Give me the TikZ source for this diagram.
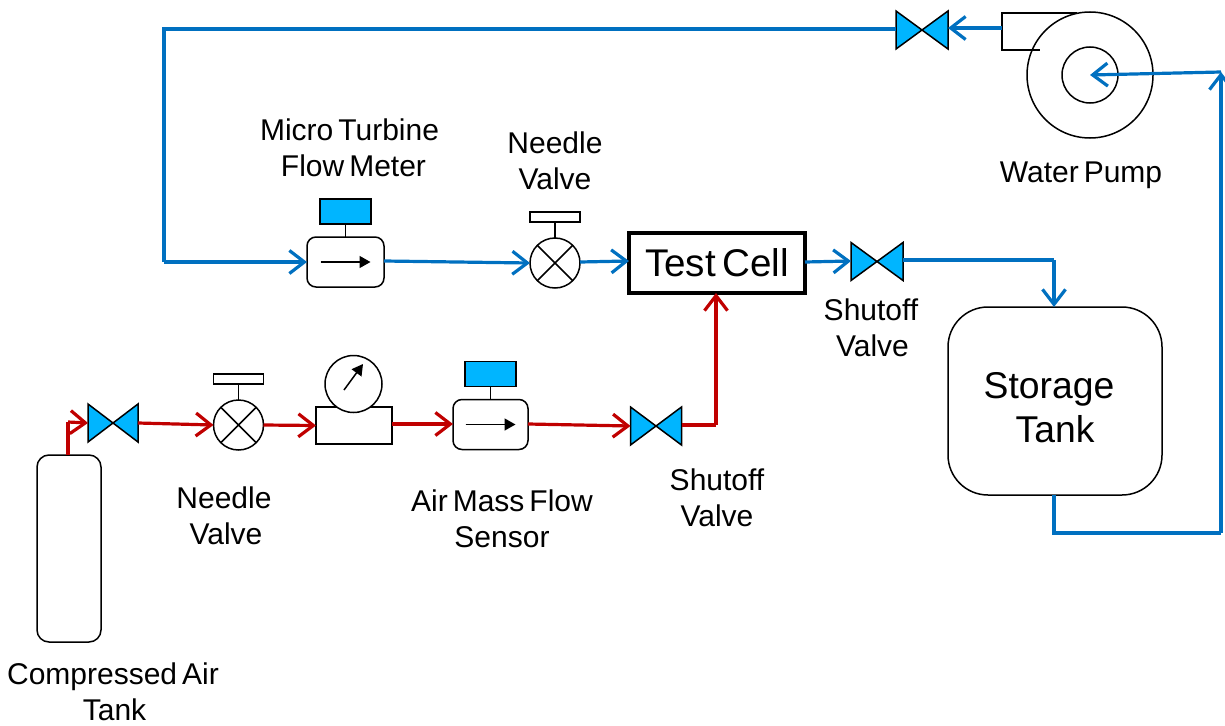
\documentclass[tikz,border=0pt]{standalone}
\usepackage{fontspec}
\setmainfont[WordSpace=0.6]{Liberation Sans}
\usetikzlibrary{arrows.meta}
\definecolor{pipeblue}{HTML}{0070C0}
\definecolor{pipered}{HTML}{C00000}
\definecolor{valvefill}{HTML}{00B5FF}
\tikzset{
  blueline/.style={draw=pipeblue,line width=3.2pt,line join=miter},
  redline/.style={draw=pipered,line width=3.2pt,line join=miter},
  flowb/.style={blueline,-{Straight Barb[length=15pt,width=23pt,line width=3.2pt]}},
  flowr/.style={redline,-{Straight Barb[length=15pt,width=23pt,line width=3.2pt]}},
  outline/.style={draw=black,line width=1.5pt},
  bowtie/.style={minimum width=#1,minimum height=38pt,inner sep=0pt,outer sep=0pt},
  box/.style={outline,rounded corners=#1,inner sep=0pt,outer sep=0pt,fill=white},
  plainbox/.style={outline,inner sep=0pt,outer sep=0pt,fill=white},
  display/.style={outline,fill=valvefill,inner sep=0pt,outer sep=0pt,minimum width=51pt,minimum height=25pt},
  handle/.style={outline,fill=white,inner sep=0pt,outer sep=0pt,minimum width=50pt,minimum height=10pt},
  disc/.style={circle,outline,fill=white,inner sep=0pt,outer sep=0pt,minimum size=#1},
  lbl/.style={align=center,inner sep=0pt,font=\fontsize{30}{36}\selectfont},
  biglbl/.style={align=center,inner sep=0pt,font=\fontsize{37.3}{44}\selectfont},
  tip/.style={-{Triangle[length=11pt,width=12pt]},line width=1.5pt,draw=black,fill=black}
}
\newcommand{\valveat}[3]{%
  \node[bowtie=#3] (#1) at (#2) {};
  \draw[outline,fill=valvefill,line join=miter] (#1.north west) -- (#1.south east) -- (#1.north east) -- (#1.south west) -- cycle;
}
\newcommand{\needleat}[2]{%
  \node[disc=50pt] (#1) at (#2) {};
  \draw[outline] (#1.north west) -- (#1.south east) (#1.north east) -- (#1.south west);
  \node[handle,above=16pt] (#1h) at (#1.north) {};
  \draw[outline] (#1.north) -- (#1h.south);
}
\newcommand{\meterat}[3]{%
  \node[box=9pt,minimum width=#3,minimum height=50pt] (#1) at (#2) {};
  \node[display,above=13pt] (#1d) at (#1.north) {};
  \draw[outline] (#1.north) -- (#1d.south);
  \coordinate (#1a) at ([xshift=-25pt]#1.center);
  \coordinate (#1b) at ([xshift=25pt]#1.center);
  \draw[tip] (#1a) -- (#1b);
}
\begin{document}
\begin{tikzpicture}[x=1pt,y=-1pt]
\useasboundingbox (0,0) rectangle (1225,725);

% upper components
\valveat{vtop}{922,30}{52pt}
\node[disc=126pt] (pump) at (1090,75) {};
\node[disc=56pt] (pumpeye) at (1090,75) {};
\coordinate (hA) at (1077,13);
\coordinate (hB) at (1002,13);
\coordinate (hC) at (1002,50);
\coordinate (hD) at (1040,50);
\draw[outline,line join=miter] (hA) -- (hB) -- (hC) -- (hD);
\meterat{mt}{345.5,262}{77pt}
\needleat{nv}{555,263}
\node[draw=black,line width=4.5pt,fill=white,minimum width=176pt,minimum height=60pt,inner sep=0pt,outer sep=0pt,font=\fontsize{38.6}{44}\selectfont] (cell) at (717,263) {Test Cell};
\valveat{vcell}{877,261.5}{52pt}
\node[box=40pt,minimum width=214pt,minimum height=188pt] (store) at (1055,401) {};

% lower components
\node[box=12pt,minimum width=64pt,minimum height=187pt] (air) at (69,548.5) {};
\valveat{vair}{113,423}{50pt}
\needleat{nr}{238.5,425}
\node[plainbox,minimum width=76pt,minimum height=37pt] (gbox) at (354,425.5) {};
\node[disc=57pt] (gauge) at (353.5,384) {};
\coordinate (ga) at (344,390);
\coordinate (gb) at (363,364);
\draw[tip] (ga) -- (gb);
\meterat{ms}{490.5,424.5}{75pt}
\valveat{vs}{656,426}{51pt}

% blue circuit
\coordinate (c1) at (164,29);
\coordinate (c2) at (164,262);
\coordinate (c3) at (1054,260);
\coordinate (c4) at (1054,533);
\coordinate (c5) at (1221,533);
\coordinate (c6) at (1221,72);
\coordinate (c7) at (1002,28);
\draw[flowb] (c7) -- ([yshift=2pt]vtop.east);
\draw[blueline] ([yshift=1pt]vtop.west) -- (c1) -- (c2);
\draw[flowb] (c2) -- (mt.west);
\draw[flowb] ([yshift=1pt]mt.east) -- (nv.west);
\draw[flowb] ([yshift=1pt]nv.east) -- ([yshift=2pt]cell.west);
\draw[flowb] ([yshift=1pt]cell.east) -- ([yshift=0.5pt]vcell.west);
\draw[blueline] ([yshift=1.5pt]vcell.east) -- (c3);
\draw[flowb] (c3) -- (store.north -| c3);
\draw[blueline] (store.south -| c4) -- (c4) -- (c5);
\draw[flowb] (c5) -- (c6);
\draw[flowb] (c6) -- (pumpeye.center);

% red circuit
\coordinate (r1) at (68,422);
\coordinate (r2) at (716,425);
\draw[redline] (air.north -| r1) -- (r1);
\draw[flowr] (r1) -- (vair.west);
\draw[flowr] (vair.east) -- (nr.west);
\draw[flowr] (nr.east) -- (gbox.west);
\draw[flowr] ([yshift=1.5pt]gbox.east) -- ([yshift=0.5pt]ms.west);
\draw[flowr] ([yshift=0.5pt]ms.east) -- (vs.west);
\draw[redline] ([yshift=1pt]vs.east) -- (r2);
\draw[flowr] (r2) -- (cell.south -| r2);

% labels
\node[lbl] (l1) at (351,148) {Micro Turbine\hspace*{3pt}\\\hspace*{5pt}Flow Meter};
\node[lbl] (l2) at (555,161) {Needle\\Valve};
\node[lbl] (l3) at (1081,175) {Water Pump};
\node[lbl] (l4) at (871,328) {Shutoff\\\hspace*{3pt}Valve};
\node[biglbl] (l5) at (1050,408) {Storage\hspace*{2pt}\\\hspace*{10pt}Tank};
\node[lbl] (l6) at (225,516) {Needle\hspace*{2pt}\\\hspace*{2pt}Valve};
\node[lbl] (l7) at (502,519) {Air Mass Flow\\Sensor};
\node[lbl] (l8) at (717,498) {Shutoff\\Valve};
\node[lbl] (l9) at (113,692) {Compressed Air\\\hspace*{3pt}Tank};
\end{tikzpicture}
\end{document}
